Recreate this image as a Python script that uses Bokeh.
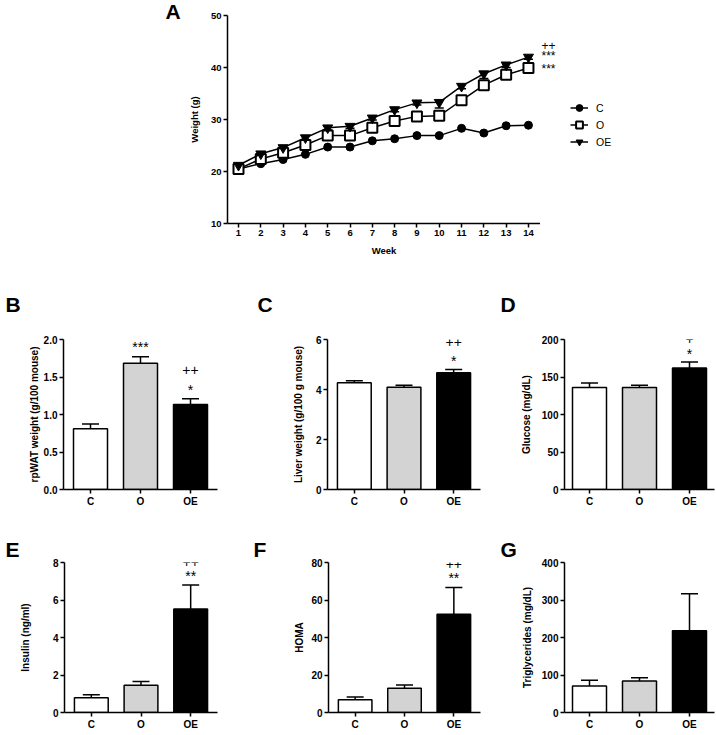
from bokeh.plotting import figure
from bokeh.layouts import column, row
from bokeh.models import (FixedTicker, NumeralTickFormatter, Label, Legend,
                          LegendItem, Range1d, ColumnDataSource)
from bokeh.embed import file_html
from bokeh.resources import INLINE

FONT = "Liberation Sans"

# ---------------- data ----------------
weeks = list(range(1, 15))
weight_C = [20.5, 21.5, 22.3, 23.3, 24.7, 24.7, 25.9, 26.3, 26.9, 26.9, 28.3, 27.4, 28.8, 28.9]
weight_O = [20.5, 22.4, 23.6, 25.1, 26.9, 26.9, 28.4, 29.7, 30.6, 30.7, 33.7, 36.6, 38.6, 39.9]
weight_OE = [21.2, 23.4, 24.6, 26.5, 28.4, 28.7, 30.3, 31.9, 33.2, 33.3, 36.4, 38.8, 40.5, 42.0]
weight_OE_err = [0.3, 0.4, 0.4, 0.4, 0.4, 0.4, 0.4, 0.4, 0.4, 1.1, 0.5, 0.9, 0.5, 0.4]
weight_marks = [("++", 44.0), ("***", 42.5), ("***", 39.9)]

groups = ["C", "O", "OE"]
bar_colors = ["white", "#d3d3d3", "black"]

rpwat_mean = [0.81, 1.685, 1.135]
rpwat_sem = [0.065, 0.085, 0.075]
rpwat_marks = [("***", 1, 1.89), ("++", 2, 1.56), ("*", 2, 1.32)]

liver_mean = [4.27, 4.09, 4.67]
liver_sem = [0.08, 0.08, 0.13]
liver_marks = [("++", 2, 5.79), ("*", 2, 5.11)]

glucose_mean = [136, 136, 162]
glucose_sem = [6, 3, 8]
glucose_marks = [("+", 2, 196.4), ("*", 2, 179.5)]

insulin_mean = [0.79, 1.45, 5.52]
insulin_sem = [0.16, 0.21, 1.28]
insulin_marks = [("++", 2, 7.89), ("**", 2, 7.23)]

homa_mean = [6.8, 12.9, 52.4]
homa_sem = [1.45, 1.8, 14.3]
homa_marks = [("++", 2, 77.5), ("**", 2, 71.2)]

tg_mean = [71, 84, 218]
tg_sem = [15, 9, 99]
tg_marks = []

TEXT_SHIFT = 8  # empirical: alphabetic-baseline labels render this much lower


def style_axes(p, tick_size, label_size, ylab_standoff, xlab_standoff=5):
    for ax in (p.xaxis[0], p.yaxis[0]):
        ax.axis_line_width = 1.5
        ax.axis_line_color = "black"
        ax.major_tick_line_width = 1.5
        ax.major_tick_line_color = "black"
        ax.major_tick_out = 4
        ax.major_tick_in = 0
        ax.minor_tick_line_color = None
        ax.major_label_text_font = FONT
        ax.major_label_text_font_style = "bold"
        ax.major_label_text_font_size = tick_size
        ax.major_label_text_color = "black"
        ax.major_label_standoff = 2
        ax.axis_label_text_font = FONT
        ax.axis_label_text_font_style = "bold"
        ax.axis_label_text_font_size = label_size
        ax.axis_label_text_color = "black"
    p.yaxis[0].axis_label_standoff = ylab_standoff
    p.xaxis[0].axis_label_standoff = xlab_standoff
    p.xgrid.grid_line_color = None
    p.ygrid.grid_line_color = None
    p.outline_line_color = None


def bar_mark_offset(txt):
    # empirical pixel offset so the glyphs' visual centre sits on the given value
    return 1 if "*" in txt else 3


def line_mark_offset(txt):
    return -1 if "*" in txt else 1


# ---------------- panel A ----------------
# page pixels: figure 0..540 x 0..280, frame left 227, right 540, top 15, bottom 223
xA = (0.507, 14.54)
ppx_A = (xA[1] - xA[0]) / (540 - 227)
ppy_A = 40 / 208.0
pA = figure(width=540, height=280, x_range=Range1d(*xA), y_range=Range1d(10, 50),
            output_backend="svg", toolbar_location=None,
            min_border_left=227, min_border_right=0, min_border_top=15, min_border_bottom=57)
style_axes(pA, "9.5px", "9.5px", 8, 6)
pA.xaxis[0].ticker = FixedTicker(ticks=weeks)
pA.yaxis[0].ticker = FixedTicker(ticks=[10, 20, 30, 40, 50])
pA.xaxis.axis_label = "Week"
pA.yaxis.axis_label = "Weight (g)"

err_lo = [v - e for v, e in zip(weight_OE, weight_OE_err)]
pA.segment(x0=weeks, y0=err_lo, x1=weeks, y1=weight_OE, line_color="black", line_width=1.5)
pA.scatter(x=weeks, y=err_lo, marker="dash", size=9, line_color="black", line_width=1.5)

styles = {
    "C": dict(marker="circle", size=8, fill_color="black", line_color="black", line_width=1),
    "O": dict(marker="square", size=10, fill_color="white", line_color="black", line_width=2),
    "OE": dict(marker="inverted_triangle", size=10, fill_color="black", line_color="black", line_width=1),
}
for g, ys in zip(groups, [weight_C, weight_O, weight_OE]):
    pA.line(weeks, ys, line_color="black", line_width=1.5)
    pA.scatter(weeks, ys, **styles[g])

pA.add_layout(Label(x=xA[0] - (227 - 165) * ppx_A, y=50 - (19 - 15) * ppy_A, text="A",
                    y_offset=TEXT_SHIFT,
                    text_font=FONT, text_font_size="21px", text_font_style="bold",
                    text_color="black", text_align="left", text_baseline="alphabetic"), "left")

# side area of panel A (legend and significance marks), same vertical scale
pS = figure(width=176, height=280, x_range=Range1d(xA[1], xA[1] + 176 * ppx_A),
            y_range=Range1d(10, 50), x_axis_type=None, y_axis_type=None,
            output_backend="svg", toolbar_location=None,
            min_border_left=0, min_border_right=0, min_border_top=15, min_border_bottom=57)
pS.xgrid.grid_line_color = None
pS.ygrid.grid_line_color = None
pS.outline_line_color = None
nan = float("nan")
items = []
for g in groups:
    ln = pS.line(x=[nan], y=[nan], line_color="black", line_width=1.5)
    sc = pS.scatter(x=[nan], y=[nan], **styles[g])
    items.append(LegendItem(label=g, renderers=[ln, sc]))
legend = Legend(items=items, location=(30, 73), orientation="vertical",
                glyph_width=18, glyph_height=17, label_height=17, spacing=0, padding=0, margin=0,
                label_standoff=8, border_line_color=None, background_fill_alpha=0,
                label_text_font=FONT, label_text_font_size="10.5px", label_text_color="black")
pS.add_layout(legend, "center")
for txt, yv in weight_marks:
    pS.add_layout(Label(x=xA[1] + 1 * ppx_A, y=yv, text=txt, y_offset=line_mark_offset(txt),
                        text_font=FONT, text_font_size="12px", text_color="black",
                        text_align="left", text_baseline="alphabetic"))


# ---------------- bar panels ----------------
def make_bar(letter, ylabel, means, sems, ymax, yticks, fmt, marks,
             fig_box, frame_box, xr, ylab_standoff, letter_xy):
    fx0, fy0, fx1, fy1 = fig_box
    lx0, ly0, lx1, ly1 = frame_box
    p = figure(width=fx1 - fx0, height=fy1 - fy0, x_range=Range1d(*xr), y_range=Range1d(0, ymax),
               output_backend="svg", toolbar_location=None,
               min_border_left=lx0 - fx0, min_border_right=fx1 - lx1,
               min_border_top=ly0 - fy0, min_border_bottom=fy1 - ly1)
    style_axes(p, "10px", "10px", ylab_standoff)
    p.yaxis.axis_label = ylabel
    p.xaxis[0].ticker = FixedTicker(ticks=[0, 1, 2])
    p.xaxis[0].major_label_overrides = {i: g for i, g in enumerate(groups)}
    p.yaxis[0].ticker = FixedTicker(ticks=yticks)
    if fmt:
        p.yaxis[0].formatter = NumeralTickFormatter(format=fmt)

    xs = list(range(len(groups)))
    upper = [m + s for m, s in zip(means, sems)]
    src = ColumnDataSource(dict(x=xs, top=means, upper=upper, color=bar_colors))
    p.segment(x0="x", y0="top", x1="x", y1="upper", source=src, line_color="black", line_width=1.5)
    p.scatter(x="x", y="upper", source=src, marker="dash", size=17, line_color="black", line_width=1.5)
    p.vbar(x="x", top="top", bottom=0, width=0.68, source=src, fill_color="color",
           line_color="black", line_width=1.5)

    for txt, gi, yv in marks:
        p.add_layout(Label(x=gi, y=yv, text=txt, y_offset=bar_mark_offset(txt),
                           text_font=FONT, text_font_size="14px", text_color="black",
                           text_align="center", text_baseline="alphabetic"))

    ppx = (xr[1] - xr[0]) / (lx1 - lx0)
    ppy = ymax / (ly1 - ly0)
    px, py = letter_xy
    p.add_layout(Label(x=xr[0] - (lx0 - px) * ppx, y=ymax + (ly0 - py) * ppy, text=letter,
                       y_offset=TEXT_SHIFT,
                       text_font=FONT, text_font_size="21px", text_font_style="bold",
                       text_color="black", text_align="left", text_baseline="alphabetic"), "left")
    return p


xr_wide = (-0.54, 2.54)
xr_right = (-0.5, 2.5)

pB = make_bar("B", "rpWAT weight (g/100 mouse)", rpwat_mean, rpwat_sem, 2.0,
              [0, 0.5, 1.0, 1.5, 2.0], "0.0", rpwat_marks,
              (0, 280, 248, 512), (63, 339, 217, 489), xr_wide, 1, (5, 312))
pC = make_bar("C", "Liver weight (g/100 g mouse)", liver_mean, liver_sem, 6,
              [0, 2, 4, 6], None, liver_marks,
              (248, 280, 484, 512), (327, 339, 480, 489), xr_wide, 9, (257, 312))
pD = make_bar("D", "Glucose (mg/dL)", glucose_mean, glucose_sem, 200,
              [0, 50, 100, 150, 200], None, glucose_marks,
              (484, 280, 716, 512), (564, 339, 714, 489), xr_right, 7, (500, 312))
pE = make_bar("E", "Insulin (ng/ml)", insulin_mean, insulin_sem, 8,
              [0, 2, 4, 6, 8], None, insulin_marks,
              (0, 512, 248, 734), (64, 562, 217, 712), xr_wide, 19, (5, 557))
pF = make_bar("F", "HOMA", homa_mean, homa_sem, 80,
              [0, 20, 40, 60, 80], None, homa_marks,
              (248, 512, 484, 734), (328, 562, 480, 712), xr_wide, 3, (253, 557))
pG = make_bar("G", "Triglycerides (mg/dL)", tg_mean, tg_sem, 400,
              [0, 100, 200, 300, 400], None, tg_marks,
              (484, 512, 716, 734), (564, 562, 714, 712), xr_right, 6, (500, 557))

layout = column(row(pA, pS), row(pB, pC, pD), row(pE, pF, pG))

open("out.html", "w").write(file_html(layout, INLINE))
